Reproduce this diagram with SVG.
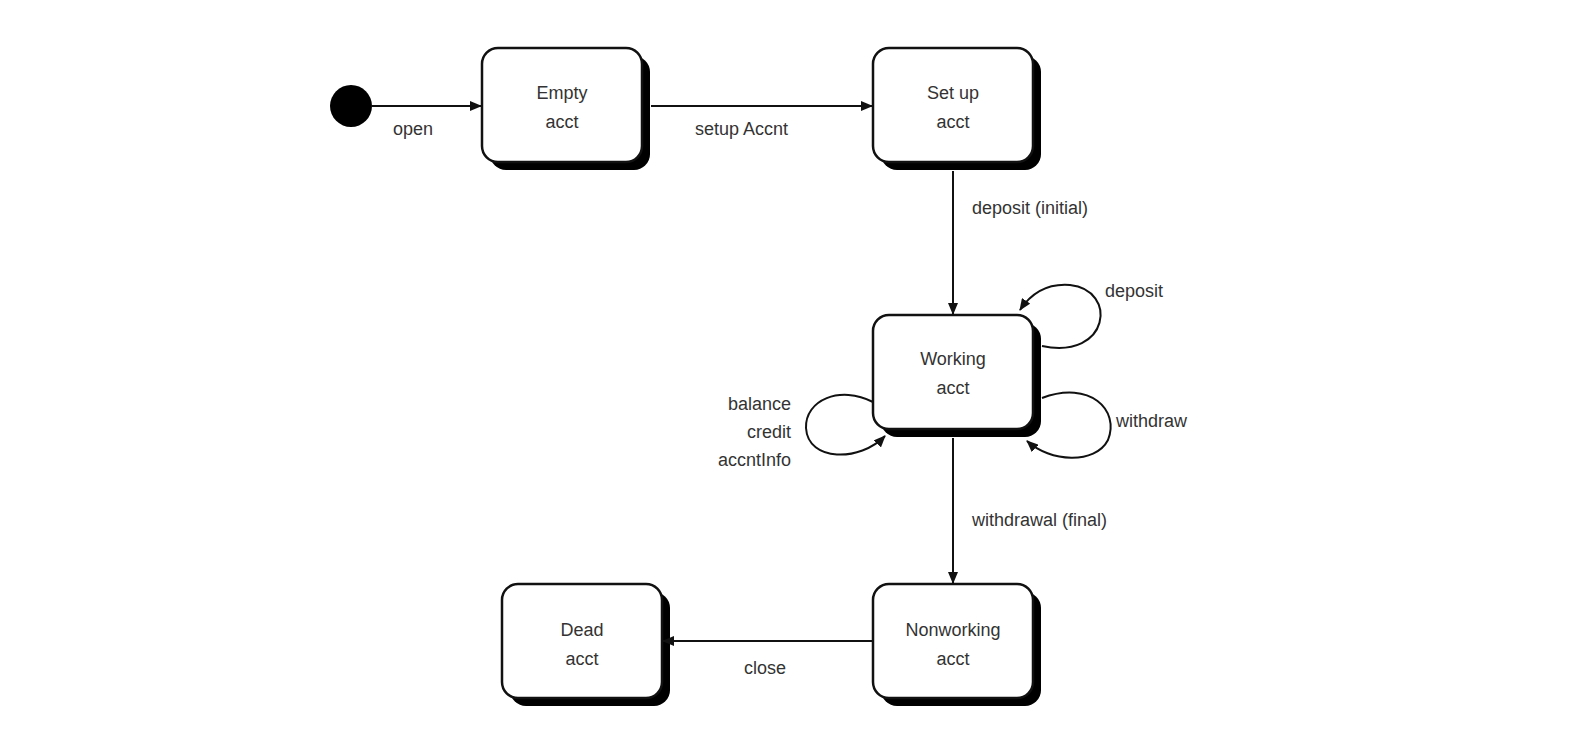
<svg xmlns="http://www.w3.org/2000/svg" width="1570" height="746" viewBox="0 0 1570 746">
<style>
.box{fill:#fff;stroke:#111;stroke-width:2.5}
.sh{fill:#000}
.t{font-family:"Liberation Sans",Arial,sans-serif;font-size:18px;fill:#333}
.c{fill:none;stroke:#111;stroke-width:2}
</style>
<defs>
<marker id="a" viewBox="0 0 12 10" refX="11" refY="5" markerWidth="12" markerHeight="10" orient="auto" markerUnits="userSpaceOnUse"><path d="M0,0 L12,5 L0,10 z" fill="#111"/></marker>
</defs>
<rect width="1570" height="746" fill="#fff"/>
<g id="start"><circle cx="351" cy="106" r="21" fill="#000"/></g>
<g id="empty"><rect class="sh" x="490" y="56" width="160" height="114" rx="16"/><rect class="box" x="482" y="48" width="160" height="114" rx="16"/><text class="t" text-anchor="middle" x="562" y="99">Empty</text><text class="t" text-anchor="middle" x="562" y="128">acct</text></g>
<g id="setup"><rect class="sh" x="881" y="56" width="160" height="114" rx="16"/><rect class="box" x="873" y="48" width="160" height="114" rx="16"/><text class="t" text-anchor="middle" x="953" y="99">Set up</text><text class="t" text-anchor="middle" x="953" y="128">acct</text></g>
<g id="working"><rect class="sh" x="881" y="323" width="160" height="114" rx="16"/><rect class="box" x="873" y="315" width="160" height="114" rx="16"/><text class="t" text-anchor="middle" x="953" y="365">Working</text><text class="t" text-anchor="middle" x="953" y="394">acct</text></g>
<g id="nonworking"><rect class="sh" x="881" y="592" width="160" height="114" rx="16"/><rect class="box" x="873" y="584" width="160" height="114" rx="16"/><text class="t" text-anchor="middle" x="953" y="636">Nonworking</text><text class="t" text-anchor="middle" x="953" y="665">acct</text></g>
<g id="dead"><rect class="sh" x="510" y="592" width="160" height="114" rx="16"/><rect class="box" x="502" y="584" width="160" height="114" rx="16"/><text class="t" text-anchor="middle" x="582" y="636">Dead</text><text class="t" text-anchor="middle" x="582" y="665">acct</text></g>
<g id="connectors">
<line class="c" x1="372" y1="106" x2="481" y2="106" marker-end="url(#a)"/>
<line class="c" x1="651" y1="106" x2="872" y2="106" marker-end="url(#a)"/>
<line class="c" x1="953" y1="171" x2="953" y2="314" marker-end="url(#a)"/>
<line class="c" x1="953" y1="438" x2="953" y2="583" marker-end="url(#a)"/>
<line class="c" x1="873" y1="641" x2="663" y2="641" marker-end="url(#a)"/>
<path class="c" d="M1042,346 C1110,360 1118,290 1070,285 C1045,283 1030,295 1020,310" marker-end="url(#a)"/>
<path class="c" d="M1042,398 C1090,380 1120,410 1108,440 C1095,465 1050,462 1027,441" marker-end="url(#a)"/>
<path class="c" d="M873,402 C840,385 805,400 806,428 C808,462 860,462 885,436" marker-end="url(#a)"/>
</g>
<text class="t" x="393" y="135">open</text>
<text class="t" x="695" y="135">setup Accnt</text>
<text class="t" x="972" y="214">deposit (initial)</text>
<text class="t" x="1105" y="297">deposit</text>
<text class="t" x="1116" y="427">withdraw</text>
<text class="t" text-anchor="end" x="791" y="410">balance</text>
<text class="t" text-anchor="end" x="791" y="438">credit</text>
<text class="t" text-anchor="end" x="791" y="466">accntInfo</text>
<text class="t" x="972" y="526">withdrawal (final)</text>
<text class="t" x="744" y="674">close</text>
</svg>
